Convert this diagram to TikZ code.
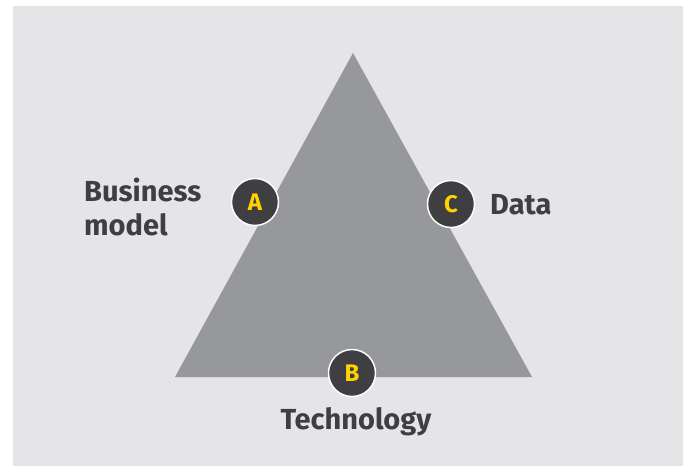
\documentclass[tikz,border=0pt]{standalone}
\usepackage{fontspec}
\setmainfont{Fira Sans}

\definecolor{panel}{HTML}{E5E5E7}
\definecolor{wedge}{HTML}{97989B}
\definecolor{dot}{HTML}{3F3F41}
\definecolor{mark}{HTML}{FFD200}

\tikzset{
	pin/.style = {circle, fill = dot, draw = white!90!panel, line width = 1.5pt, minimum size = 47pt, inner sep = 0pt, text = mark, font = \fontsize{24}{24}\selectfont\bfseries},
	caption/.style = {text = dot, font = \fontsize{29}{34}\selectfont\bfseries, inner sep = 0pt}
}

\begin{document}
\begin{tikzpicture}[x = 1pt, y = -1pt]
	\useasboundingbox (0, 0) rectangle (687, 466);
	\fill[panel] (13, 6) rectangle (683, 466);

	% the triangle
	\coordinate (top) at (353, 53);
	\coordinate (left) at (175, 377);
	\coordinate (right) at (532, 377);
	\fill[wedge] (top) -- (left) -- (right) -- cycle;

	% corner labels on the sides
	\node[pin] (a) at (255, 202) {A};
	\node[pin] (c) at (451, 204) {C};
	\node[pin] (b) at (352, 373) {B};

	\node[caption, align = left, anchor = west] (model) at (84, 207) {Business\\model};
	\node[caption, anchor = base west] (data) at (490, 214) {Data};
	\node[caption, anchor = base] (tech) at (356, 429) {Technology};
\end{tikzpicture}
\end{document}
